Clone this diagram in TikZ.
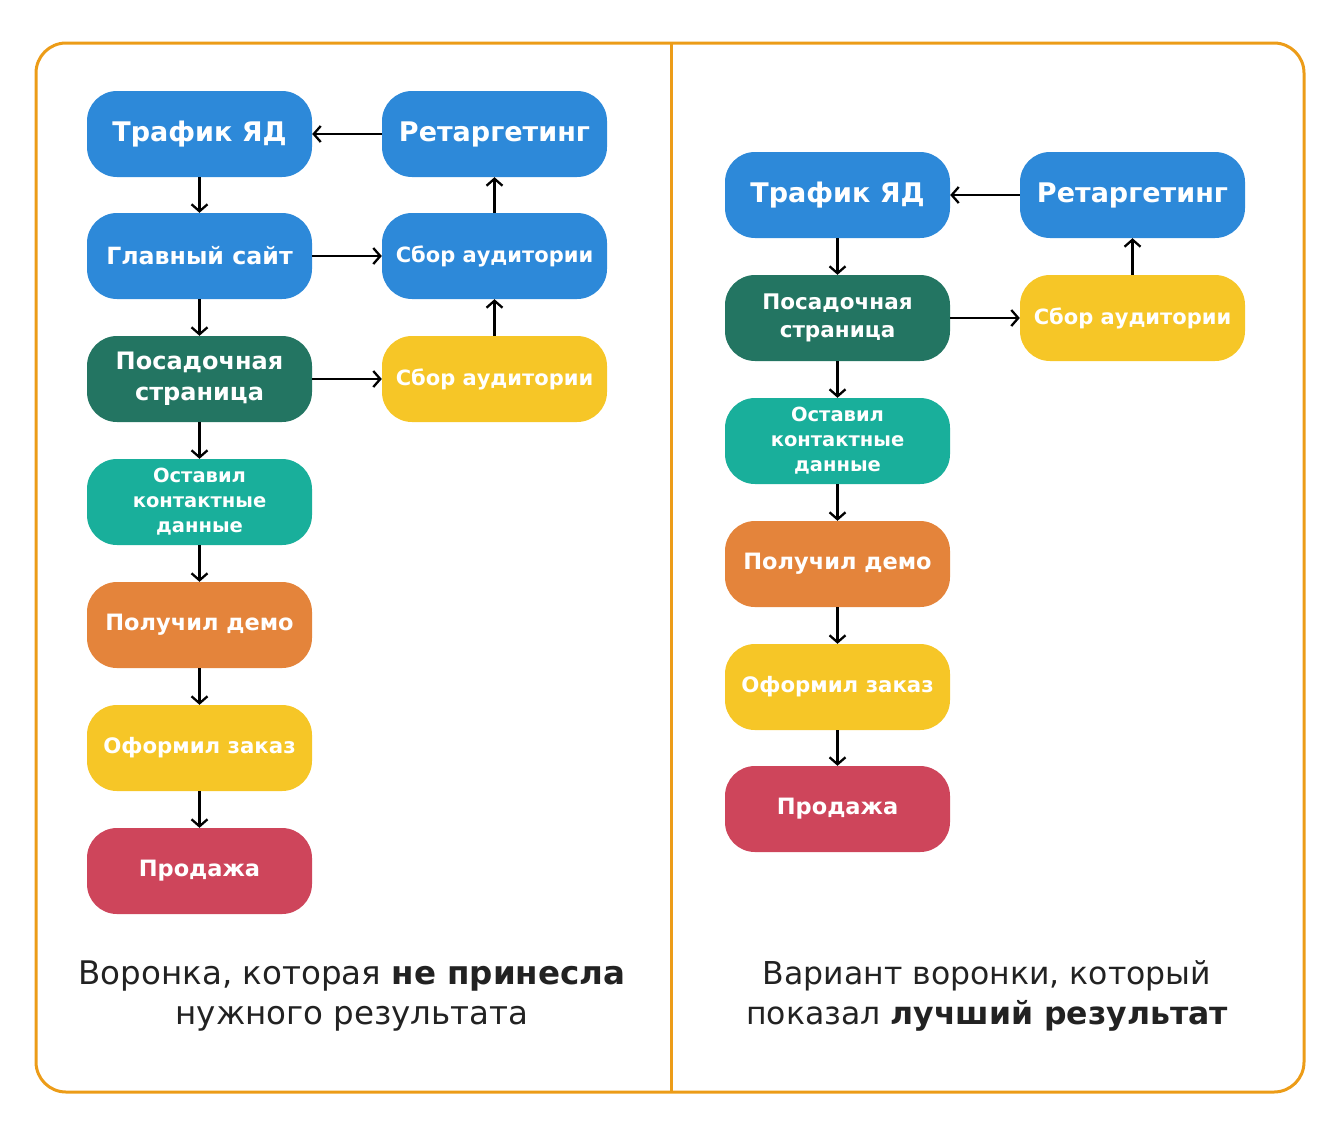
\documentclass[tikz,border=0pt]{standalone}
\usepackage{fontspec}
\setmainfont{DejaVu Sans}
\usetikzlibrary{arrows.meta}
\definecolor{blau}{HTML}{2D89D9}
\definecolor{dunkelgruen}{HTML}{237562}
\definecolor{tuerkis}{HTML}{19AF9B}
\definecolor{orangeb}{HTML}{E4843B}
\definecolor{gelb}{HTML}{F6C627}
\definecolor{rot}{HTML}{CE455B}
\definecolor{rahmen}{HTML}{EC9C18}
\definecolor{schrift}{HTML}{222222}
\tikzset{
	box/.style={fill=#1, text=white, rounded corners=30pt, minimum width=225pt, minimum height=86pt, inner sep=0pt, align=center, font=\bfseries},
	pfeil/.style={-{Straight Barb[length=7pt,width=16pt]}, line width=2.3pt},
	gross/.style={font=\bfseries\fontsize{27}{31}\selectfont},
	mittel/.style={font=\bfseries\fontsize{22.5}{28}\selectfont},
	klein/.style={font=\bfseries\fontsize{19.5}{25}\selectfont}
}
\begin{document}
\begin{tikzpicture}[x=1pt,y=-1pt]
	\useasboundingbox (0,0) rectangle (1340,1136);
	\draw[rahmen, line width=3pt, rounded corners=30pt] (36,43) rectangle (1304,1092);%Rahmen
	\draw[rahmen, line width=3pt] (671,43) -- (671,1092);%Trennlinie
	%linke Seite
	\node[box=blau, gross] (trafL) at (199.5,134) {Трафик ЯД};
	\node[box=blau, gross] (retL) at (494.5,134) {Ретаргетинг};
	\node[box=blau, font=\bfseries\fontsize{23.7}{28}\selectfont] (mainL) at (199.5,256) {Главный сайт};
	\node[box=blau, font=\bfseries\fontsize{21}{28}\selectfont] (sborLa) at (494.5,256) {Сбор аудитории};
	\node[box=dunkelgruen, font=\bfseries\fontsize{24}{31}\selectfont] (landL) at (199.5,379) {Посадочная\\страница};
	\node[box=gelb, font=\bfseries\fontsize{21}{28}\selectfont] (sborLb) at (494.5,379) {Сбор аудитории};
	\node[box=tuerkis, klein] (contL) at (199.5,502) {Оставил\\контактные\\данные};
	\node[box=orangeb, mittel] (demoL) at (199.5,625) {Получил демо};
	\node[box=gelb, font=\bfseries\fontsize{21.3}{28}\selectfont] (orderL) at (199.5,748) {Оформил заказ};
	\node[box=rot, mittel] (saleL) at (199.5,871) {Продажа};
	\draw[pfeil] (retL) -- (trafL);
	\draw[pfeil] (trafL) -- (mainL);
	\draw[pfeil] (mainL) -- (sborLa);
	\draw[pfeil] (sborLa) -- (retL);
	\draw[pfeil] (sborLb) -- (sborLa);
	\draw[pfeil] (mainL) -- (landL);
	\draw[pfeil] (landL) -- (sborLb);
	\draw[pfeil] (landL) -- (contL);
	\draw[pfeil] (contL) -- (demoL);
	\draw[pfeil] (demoL) -- (orderL);
	\draw[pfeil] (orderL) -- (saleL);
	%rechte Seite
	\node[box=blau, gross] (trafR) at (837.5,195) {Трафик ЯД};
	\node[box=blau, gross] (retR) at (1132.5,195) {Ретаргетинг};
	\node[box=dunkelgruen, font=\bfseries\fontsize{21.5}{28}\selectfont] (landR) at (837.5,318) {Посадочная\\страница};
	\node[box=gelb, font=\bfseries\fontsize{21}{28}\selectfont] (sborR) at (1132.5,318) {Сбор аудитории};
	\node[box=tuerkis, klein] (contR) at (837.5,441) {Оставил\\контактные\\данные};
	\node[box=orangeb, mittel] (demoR) at (837.5,564) {Получил демо};
	\node[box=gelb, font=\bfseries\fontsize{21.3}{28}\selectfont] (orderR) at (837.5,687) {Оформил заказ};
	\node[box=rot, mittel] (saleR) at (837.5,809) {Продажа};
	\draw[pfeil] (retR) -- (trafR);
	\draw[pfeil] (trafR) -- (landR);
	\draw[pfeil] (landR) -- (sborR);
	\draw[pfeil] (sborR) -- (retR);
	\draw[pfeil] (landR) -- (contR);
	\draw[pfeil] (contR) -- (demoR);
	\draw[pfeil] (demoR) -- (orderR);
	\draw[pfeil] (orderR) -- (saleR);
	%Beschriftung
	\node[text=schrift, align=center, font=\fontsize{32.5}{40}\selectfont] (capL) at (352,996) {Воронка, которая \textbf{не принесла}\\нужного результата};
	\node[text=schrift, align=center, font=\fontsize{31.5}{40}\selectfont] (capR) at (987,996) {Вариант воронки, который\\показал \textbf{лучший результат}};
\end{tikzpicture}
\end{document}
